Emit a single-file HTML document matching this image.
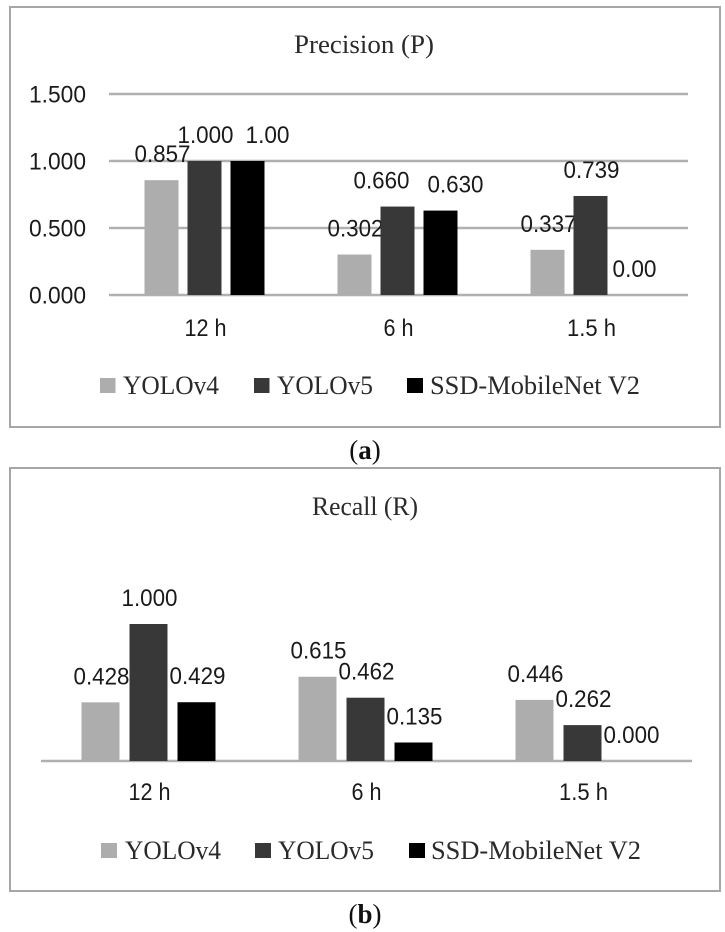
<!DOCTYPE html>
<html lang="en">
<head>
<meta charset="utf-8">
<title>Precision and Recall</title>
<style>
html,body{margin:0;padding:0;background:#fff;}
svg{display:block;}
.num{font-family:"Liberation Sans",sans-serif;font-size:24px;fill:#1a1a1a;}
.ser{font-family:"Liberation Serif",serif;font-size:26px;fill:#2a2a2a;}
.cap{font-family:"Liberation Serif",serif;font-size:27px;fill:#111;}
</style>
</head>
<body>
<svg id="root" xmlns="http://www.w3.org/2000/svg" width="725" height="932" viewBox="0 0 725 932">
  <rect x="10" y="7" width="710" height="420" fill="#fff" stroke="#a6a6a6" stroke-width="2"/>
  <rect x="10" y="468" width="710" height="423" fill="#fff" stroke="#a6a6a6" stroke-width="2"/>

  <text class="ser" x="364" y="53" text-anchor="middle" textLength="140" lengthAdjust="spacingAndGlyphs">Precision (P)</text>
  <text class="ser" x="365" y="515" text-anchor="middle" textLength="106" lengthAdjust="spacingAndGlyphs">Recall (R)</text>

  <g id="chart-a"></g>
  <g id="chart-b"></g>

  <g>
    <rect x="100" y="378" width="15.5" height="15" fill="#adadad"/>
    <text class="ser" x="123" y="394" textLength="96" lengthAdjust="spacingAndGlyphs">YOLOv4</text>
    <rect x="254" y="378" width="15.5" height="15" fill="#383838"/>
    <text class="ser" x="277" y="394" textLength="96" lengthAdjust="spacingAndGlyphs">YOLOv5</text>
    <rect x="407" y="378" width="16" height="15" fill="#000"/>
    <text class="ser" x="430" y="394" textLength="210" lengthAdjust="spacingAndGlyphs">SSD-MobileNet V2</text>
  </g>
  <g>
    <rect x="101" y="843" width="16" height="15" fill="#adadad"/>
    <text class="ser" x="125" y="859" textLength="96" lengthAdjust="spacingAndGlyphs">YOLOv4</text>
    <rect x="255" y="843" width="16" height="15" fill="#383838"/>
    <text class="ser" x="278" y="859" textLength="96" lengthAdjust="spacingAndGlyphs">YOLOv5</text>
    <rect x="409" y="843" width="16" height="15" fill="#000"/>
    <text class="ser" x="431" y="859" textLength="210" lengthAdjust="spacingAndGlyphs">SSD-MobileNet V2</text>
  </g>

  <text class="cap" x="365" y="459" text-anchor="middle">(<tspan font-weight="bold">a</tspan>)</text>
  <text class="cap" x="365" y="923" text-anchor="middle">(<tspan font-weight="bold">b</tspan>)</text>
</svg>
<script>
const categories = ['12 h', '6 h', '1.5 h'];
const seriesNames = ['yolov4', 'yolov5', 'ssd-mobilenet-v2'];
const precisionYolov4 = [0.857, 0.302, 0.337];
const precisionYolov5 = [1.000, 0.660, 0.739];
const precisionSsd = [1.000, 0.630, 0.000];
const precisionPrintedYolov4 = ['0.857', '0.302', '0.337'];
const precisionPrintedYolov5 = ['1.000', '0.660', '0.739'];
const precisionPrintedSsd = ['1.00', '0.630', '0.00'];
const precisionTicks = [0, 0.5, 1.0, 1.5];
const precisionTickLabels = ['0.000', '0.500', '1.000', '1.500'];
const recallYolov4 = [0.428, 0.615, 0.446];
const recallYolov5 = [1.000, 0.462, 0.262];
const recallSsd = [0.429, 0.135, 0.000];
const recallPrintedYolov4 = ['0.428', '0.615', '0.446'];
const recallPrintedYolov5 = ['1.000', '0.462', '0.262'];
const recallPrintedSsd = ['0.429', '0.135', '0.000'];

const seriesColors = ['#adadad', '#383838', '#000000'];
const NS = 'http://www.w3.org/2000/svg';

function svgEl(parent, tag, attrs, text) {
  const el = document.createElementNS(NS, tag);
  for (const k in attrs) el.setAttribute(k, attrs[k]);
  if (text !== undefined) el.textContent = text;
  parent.appendChild(el);
  return el;
}

function drawChart(cfg) {
  const g = document.getElementById(cfg.id);
  const yOf = v => cfg.baseY - (v / cfg.unit) * cfg.unitPx;
  const bandW = (cfg.x1 - cfg.x0) / categories.length;
  const xOf = i => cfg.x0 + bandW * (i + 0.5);

  cfg.ticks.forEach((t, i) => {
    const line = svgEl(g, 'line', {x1: cfg.x0, x2: cfg.x1, y1: yOf(t), y2: yOf(t), stroke: '#b0b0b0', 'stroke-width': 2.4});
    
    
    if (cfg.tickLabels[i] !== undefined) {
      const lab = svgEl(g, 'text', {class: 'num', x: 86, y: yOf(t) + 8.5, 'text-anchor': 'end', textLength: 57, lengthAdjust: 'spacingAndGlyphs'}, cfg.tickLabels[i]);
      
      
    }
  });

  cfg.series.forEach((vals, s) => {
    vals.forEach((v, i) => {
      const cx = xOf(i) + (s - 1) * cfg.barStep;
      const top = yOf(v);
      const h = cfg.baseY - top;
      if (h > 0) {
        const bar = svgEl(g, 'rect', {x: cx - cfg.barW / 2 - 1, y: top, width: cfg.barW, height: h, fill: seriesColors[s]});
        
        
      }
      const printed = cfg.printed[s][i];
      const nudge = cfg.labelNudgeX[s][i];
      const wid = printed.length === 5 ? 56 : 44;
      const lab = svgEl(g, 'text', {class: 'num', x: cx + nudge, y: top - 18, 'text-anchor': 'middle', textLength: wid, lengthAdjust: 'spacingAndGlyphs'}, printed);
      
      
    });
  });

  categories.forEach((c, i) => {
    const catWidth = c.length === 4 ? 42 : (c.length === 3 ? 30 : 49);
    const lab = svgEl(g, 'text', {class: 'num', x: xOf(i), y: cfg.catY, 'text-anchor': 'middle', textLength: catWidth, lengthAdjust: 'spacingAndGlyphs'}, c);
    
    
  });
}

drawChart({
  id: 'chart-a', x0: 109, x1: 688, baseY: 295, unit: 1, unitPx: 134, barW: 34, barStep: 43, catY: 336,
  ticks: precisionTicks, tickLabels: precisionTickLabels,
  series: [precisionYolov4, precisionYolov5, precisionSsd],
  printed: [precisionPrintedYolov4, precisionPrintedYolov5, precisionPrintedSsd],
  labelNudgeX: [[0, 0, 0], [0, -17, 0], [19, 14, 0]]
});

drawChart({
  id: 'chart-b', x0: 41, x1: 692, baseY: 761, unit: 1, unitPx: 137, barW: 38, barStep: 48, catY: 800,
  ticks: [0], tickLabels: [],
  series: [recallYolov4, recallYolov5, recallSsd],
  printed: [recallPrintedYolov4, recallPrintedYolov5, recallPrintedSsd],
  labelNudgeX: [[0, 0, 0], [0, 0, 0], [0, 0, 0]]
});
</script>
</body>
</html>
